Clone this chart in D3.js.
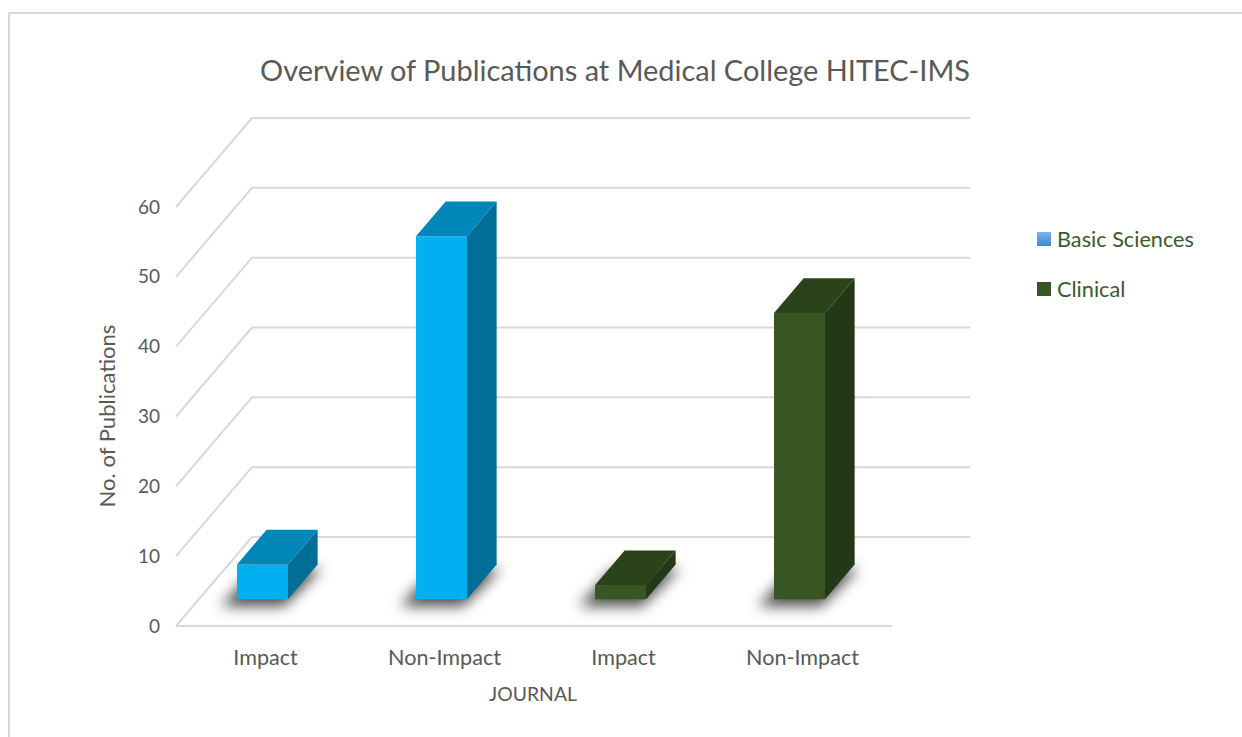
<!DOCTYPE html>
<html><head><meta charset="utf-8">
<script src="https://cdn.jsdelivr.net/npm/d3@7"></script>
<style>html,body{margin:0;padding:0;background:#fff;overflow:hidden}svg{display:block}</style>
</head><body>
<svg id="c" width="1242" height="737"></svg>
<script>
const categories = ["Impact", "Non-Impact", "Impact", "Non-Impact"];
const seriesNames = ["Basic Sciences", "Clinical"];
const basicSciences = [5, 52, null, null];
const clinical = [null, null, 2, 41];
const yTicks = [0, 10, 20, 30, 40, 50, 60];
const chartTitle = "Overview of Publications at Medical College HITEC-IMS";
const xTitle = "JOURNAL";
const yTitle = "No. of Publications";

const svg = d3.select("#c");
const FONT = "Lato, 'Open Sans', sans-serif";

function fit(sel, w) {
  const n = sel.node();
  const fs = parseFloat(sel.attr("font-size"));
  const L = n.getComputedTextLength();
  if (L > 0) sel.attr("font-size", (fs * w / L).toFixed(2));
  return sel;
}

// frame
svg.append("path").attr("d", "M9,737 V13 H1242").attr("fill", "none")
  .attr("stroke", "#d9d9d9").attr("stroke-width", 2);

// scales
const x = d3.scaleBand().domain(d3.range(categories.length)).range([176, 892]).padding(0);
const y = d3.scaleLinear().domain([0, 60]).range([626, 207]);
const DX = 76, DY = -89;           // full depth offset
const barDepth = { f: 0.3, b: 0.69 };

// defs
const defs = svg.append("defs");
const flt = defs.append("filter").attr("id", "sh").attr("x", "-50%").attr("y", "-50%").attr("width", "200%").attr("height", "200%");
flt.append("feGaussianBlur").attr("stdDeviation", 7);
const lg = defs.append("linearGradient").attr("id", "lgBlue").attr("x1", 0).attr("y1", 0).attr("x2", 0).attr("y2", 1);
lg.append("stop").attr("offset", 0).attr("stop-color", "#7fb3e6");
lg.append("stop").attr("offset", 1).attr("stop-color", "#3f87d0");

// gridlines: back wall + left diagonal
const grid = svg.append("g").attr("stroke", "#d9d9d9").attr("stroke-width", 2).attr("fill", "none");
yTicks.forEach(t => {
  const yy = y(t);
  grid.append("path").attr("d", `M${176},${yy} L${176 + DX},${yy + DY} H${892 + 78}`);
});
// front floor line
grid.append("path").attr("d", `M176,${y(0)} H892`);

// tick labels
svg.append("g").selectAll("text").data(yTicks).join("text")
  .attr("x", 160).attr("y", d => y(d)).attr("dy", "0.35em")
  .attr("text-anchor", "end").attr("font-family", FONT).attr("font-size", 19)
  .attr("fill", "#595959").text(d => d);

// category labels
const cl = svg.append("g").selectAll("text").data(categories).join("text")
  .attr("x", (d, i) => x(i) + x.bandwidth() / 2).attr("y", 657).attr("dy", "0.35em")
  .attr("text-anchor", "middle").attr("font-family", FONT).attr("font-size", 18)
  .attr("fill", "#595959").text(d => d);
fit(d3.select(cl.nodes()[1]), 113);
cl.attr("font-size", d3.select(cl.nodes()[1]).attr("font-size"));

// bars
const colors = [
  { front: "#00b0f0", top: "#0086b8", side: "#006e96" },
  { front: "#375623", top: "#2b431b", side: "#233816" }
];
const bars = [];
categories.forEach((c, i) => {
  [basicSciences, clinical].forEach((arr, s) => {
    if (arr[i] != null) bars.push({ i, s, v: arr[i] });
  });
});
const bw = 51;
const fdx = DX * barDepth.f, fdy = DY * barDepth.f;
const ddx = DX * (barDepth.b - barDepth.f), ddy = DY * (barDepth.b - barDepth.f);
const shadowG = svg.append("g").attr("filter", "url(#sh)");
const barG = svg.append("g");
bars.forEach(b => {
  const cx = x(b.i) + x.bandwidth() / 2;
  const x0 = cx - 28.5, x1 = x0 + bw;
  const yb = y(0) + fdy, yt = y(b.v) + fdy;
  const col = colors[b.s];
  // shadow (footprint)
  shadowG.append("path")
    .attr("d", `M${x0 - 16},${yb + 7} H${x1 - 4} L${x1 + ddx + 4},${yb + ddy + 4} H${x0 + ddx - 10} Z`)
    .attr("fill", "#000").attr("opacity", 0.7);
  // front
  barG.append("path").attr("d", `M${x0},${yb} V${yt} H${x1} V${yb} Z`).attr("fill", col.front);
  // side
  barG.append("path").attr("d", `M${x1},${yb} V${yt} L${x1 + ddx},${yt + ddy} V${yb + ddy} Z`).attr("fill", col.side);
  // top
  barG.append("path").attr("d", `M${x0},${yt} H${x1} L${x1 + ddx},${yt + ddy} H${x0 + ddx} Z`).attr("fill", col.top);
});

// title
fit(svg.append("text").attr("x", 615).attr("y", 81).attr("text-anchor", "middle")
  .attr("font-family", FONT).attr("font-size", 26).attr("fill", "#595959").text(chartTitle), 710);

// axis titles
fit(svg.append("text").attr("x", 533).attr("y", 694).attr("dy", "0.35em").attr("text-anchor", "middle")
  .attr("font-family", FONT).attr("font-size", 17).attr("fill", "#595959").text(xTitle), 88);
fit(svg.append("text").attr("transform", "translate(107,416) rotate(-90)").attr("dy", "0.35em").attr("text-anchor", "middle")
  .attr("font-family", FONT).attr("font-size", 18).attr("fill", "#595959").text(yTitle), 183);

// legend
const leg = svg.append("g");
const legFills = ["url(#lgBlue)", "#375623"];
seriesNames.forEach((n, k) => {
  const yy = 239 + k * 50;
  leg.append("rect").attr("x", 1037).attr("y", yy - 7).attr("width", 14).attr("height", 14).attr("fill", legFills[k]);
  const t = leg.append("text").attr("x", 1057).attr("y", yy).attr("dy", "0.35em")
    .attr("font-family", FONT).attr("font-size", 19).attr("fill", "#3b5a2c").text(n);
  if (k === 0) fit(t, 137);
  else t.attr("font-size", leg.select("text").attr("font-size"));
});
</script>
</body></html>
